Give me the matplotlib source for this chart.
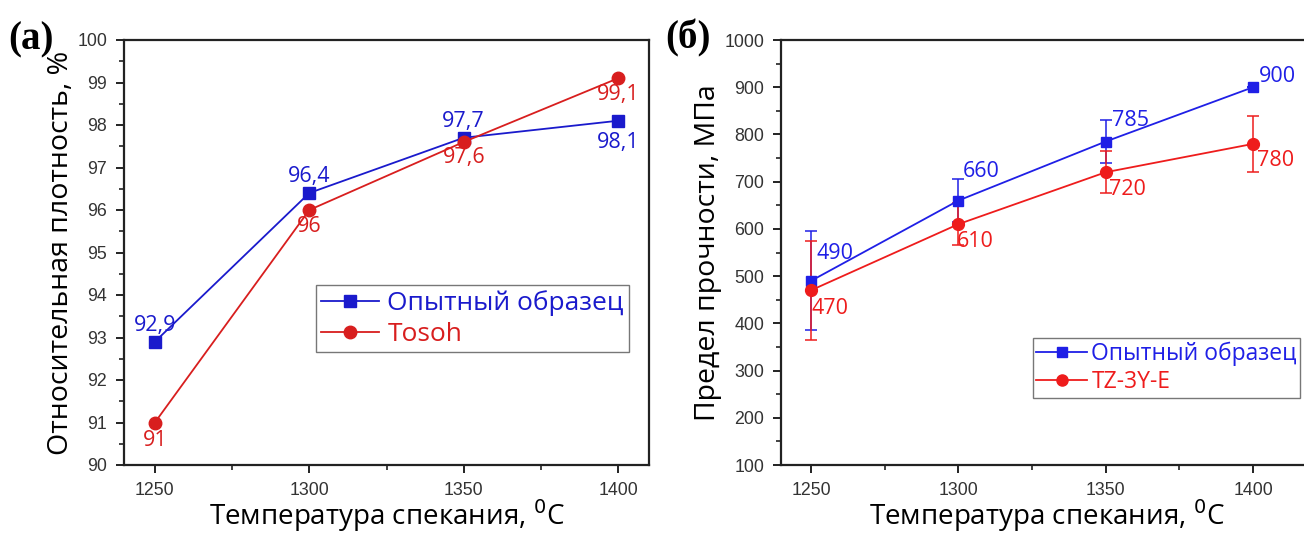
import matplotlib
matplotlib.use("Agg")
import matplotlib.pyplot as plt
from matplotlib.ticker import MultipleLocator
from matplotlib.lines import Line2D

# ---- data ----
temps = [1250, 1300, 1350, 1400]
dens_sample = [92.9, 96.4, 97.7, 98.1]
dens_tosoh = [91.0, 96.0, 97.6, 99.1]
dens_sample_lbl = ["92,9", "96,4", "97,7", "98,1"]
dens_tosoh_lbl = ["91", "96", "97,6", "99,1"]

str_sample = [490, 660, 785, 900]
str_sample_err = [105, 45, 45, 0]
str_tz = [470, 610, 720, 780]
str_tz_err = [105, 45, 45, 60]
str_sample_lbl = ["490", "660", "785", "900"]
str_tz_lbl = ["470", "610", "720", "780"]

xlabel = "Температура спекания, $^{0}$C"
ylabel_a = "Относительная плотность, %"
ylabel_b = "Предел прочности, МПа"
leg_sample = "Опытный образец"
leg_tosoh = "Tosoh"
leg_tz = "TZ-3Y-E"

BLUE_A = "#1a1acc"
RED_A = "#d81e1e"
BLUE_B = "#1f1fe6"
RED_B = "#ee1c1c"
LABEL_FONT = "Open Sans"
TICK_FONT = "Liberation Sans"

fig = plt.figure(figsize=(13.04, 5.34), dpi=100)

def style_axes(ax):
    for s in ax.spines.values():
        s.set_linewidth(1.6)
        s.set_color("#222222")
    ax.tick_params(which="both", direction="out", top=False, right=False,
                   colors="#222222", labelcolor="#333333")
    ax.tick_params(which="major", length=6, width=1.4, labelsize=12.8, pad=6)
    ax.tick_params(which="minor", length=3.5, width=1.2)
    for lab in ax.get_xticklabels() + ax.get_yticklabels():
        lab.set_fontfamily(TICK_FONT)

# ---- panel (a) ----
ax1 = fig.add_axes([124/1304, 1-465/534, (649-124)/1304, (465-40)/534])
ax1.plot(temps, dens_sample, color=BLUE_A, lw=1.3, marker="s", ms=8,
         label=leg_sample, zorder=3)
ax1.plot(temps, dens_tosoh, color=RED_A, lw=1.3, marker="o", ms=9,
         label=leg_tosoh, zorder=3)
ax1.set_xlim(1240, 1410)
ax1.set_ylim(90, 100)
ax1.xaxis.set_major_locator(MultipleLocator(50))
ax1.xaxis.set_minor_locator(MultipleLocator(25))
ax1.yaxis.set_major_locator(MultipleLocator(1))
ax1.yaxis.set_minor_locator(MultipleLocator(0.5))
style_axes(ax1)
ax1.set_xlabel(xlabel, fontsize=20, family=LABEL_FONT, labelpad=-1)
ax1.set_ylabel(ylabel_a, fontsize=20.5, family=LABEL_FONT, labelpad=2)

offs_s = [(0, 12), (0, 12), (0, 12), (0, -16)]
offs_t = [(0, -13), (0, -12), (0, -11.5), (0, -11.7)]
for x, y, l, o in zip(temps, dens_sample, dens_sample_lbl, offs_s):
    ax1.annotate(l, (x, y), xytext=o, textcoords="offset points",
                 ha="center", va="center", color=BLUE_A, fontsize=15.5,
                 family=LABEL_FONT)
for x, y, l, o in zip(temps, dens_tosoh, dens_tosoh_lbl, offs_t):
    ax1.annotate(l, (x, y), xytext=o, textcoords="offset points",
                 ha="center", va="center", color=RED_A, fontsize=15.5,
                 family=LABEL_FONT)

lg1 = ax1.legend(loc="upper left", bbox_to_anchor=((316-124)/525, (465-285)/425),
                 borderaxespad=0, prop={"family": LABEL_FONT, "size": 19},
                 fancybox=False, edgecolor="#777777", framealpha=1,
                 handlelength=2.2, handletextpad=0.3, borderpad=0.2,
                 labelspacing=0.22)
lg1.get_frame().set_linewidth(1.0)
for t, c in zip(lg1.get_texts(), [BLUE_A, RED_A]):
    t.set_color(c)

fig.text(8/1304, 1-40/534, "(a)", fontsize=28, fontweight="bold",
         family="Liberation Serif", va="center", ha="left")

# ---- panel (б) ----
ax2 = fig.add_axes([781/1304, 1-465/534, (1312-781)/1304, (465-40)/534])
ax2.errorbar(temps, str_sample, yerr=str_sample_err, color=BLUE_B, lw=1.3,
             marker="s", ms=7.5, capsize=4, elinewidth=1.1, capthick=1.1,
             zorder=3)
ax2.errorbar(temps, str_tz, yerr=str_tz_err, color=RED_B, lw=1.3,
             marker="o", ms=8.5, capsize=4, elinewidth=1.1, capthick=1.1,
             zorder=3)
ax2.set_xlim(1239.8, 1420)
ax2.set_ylim(100, 1000)
ax2.xaxis.set_major_locator(MultipleLocator(50))
ax2.xaxis.set_minor_locator(MultipleLocator(25))
ax2.yaxis.set_major_locator(MultipleLocator(100))
ax2.yaxis.set_minor_locator(MultipleLocator(50))
style_axes(ax2)
ax2.set_xlabel(xlabel, fontsize=20, family=LABEL_FONT, labelpad=-1)
ax2.set_ylabel(ylabel_b, fontsize=20.5, family=LABEL_FONT, labelpad=2)

offs_s2 = [(3.6, 20), (3, 21), (4.3, 14.8), (4.3, 8)]
offs_t2 = [(0, -13), (-1.5, -12.6), (2, -12.2), (3, -12)]
for x, y, l, o in zip(temps, str_sample, str_sample_lbl, offs_s2):
    ax2.annotate(l, (x, y), xytext=o, textcoords="offset points",
                 ha="left", va="center", color=BLUE_B, fontsize=15.5,
                 family=LABEL_FONT)
for x, y, l, o in zip(temps, str_tz, str_tz_lbl, offs_t2):
    ax2.annotate(l, (x, y), xytext=o, textcoords="offset points",
                 ha="left", va="center", color=RED_B, fontsize=15.5,
                 family=LABEL_FONT)

h2 = [Line2D([], [], color=BLUE_B, lw=1.3, marker="s", ms=7),
      Line2D([], [], color=RED_B, lw=1.3, marker="o", ms=8)]
lg2 = ax2.legend(h2, [leg_sample, leg_tz], loc="upper left",
                 bbox_to_anchor=((1033-781)/531, (465-338)/425),
                 borderaxespad=0, prop={"family": LABEL_FONT, "size": 16.5},
                 fancybox=False, edgecolor="#777777", framealpha=1,
                 handlelength=2.2, handletextpad=0.2, borderpad=0.15,
                 labelspacing=0.2)
lg2.get_frame().set_linewidth(1.0)
for t, c in zip(lg2.get_texts(), [BLUE_B, RED_B]):
    t.set_color(c)

fig.text(665/1304, 1-38/534, "(б)", fontsize=28, fontweight="bold",
         family="Liberation Serif", va="center", ha="left")

fig.savefig("out.png", dpi=100)
